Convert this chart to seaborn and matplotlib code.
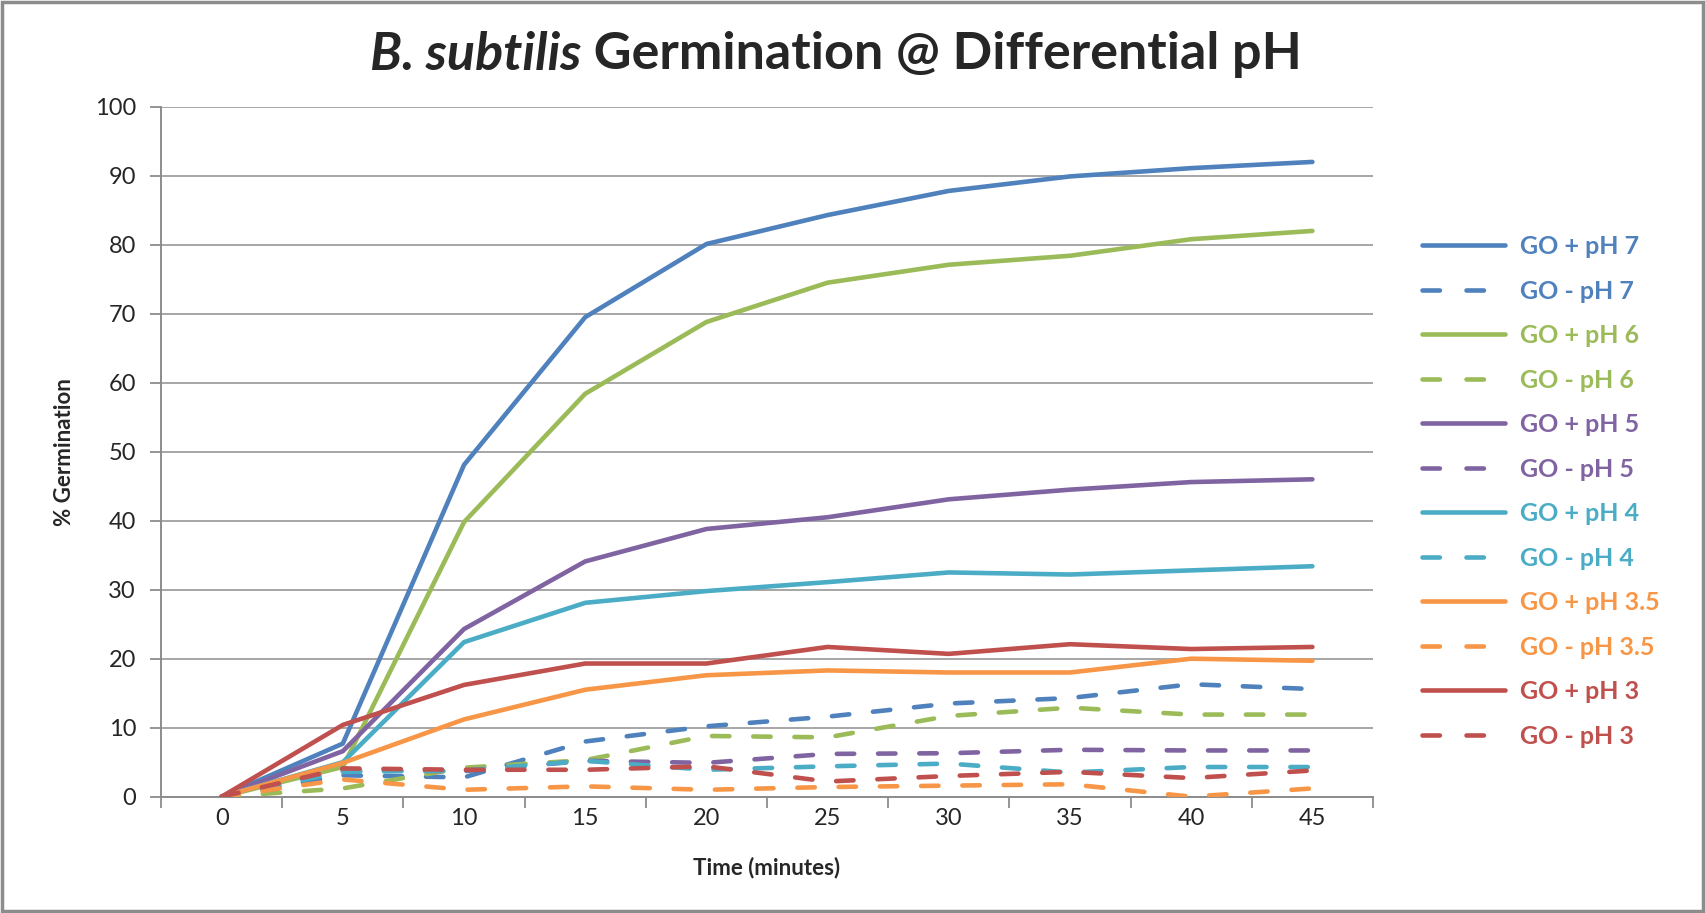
import matplotlib
matplotlib.use("Agg")
import matplotlib.pyplot as plt
import seaborn as sns
import pandas as pd
from matplotlib.lines import Line2D
from matplotlib.patches import Rectangle

# Sampling times (minutes)
time_min = [0, 5, 10, 15, 20, 25, 30, 35, 40, 45]

# % germination per condition
go_plus_ph7 = [0, 7.7, 48.1, 69.5, 80.1, 84.3, 87.8, 89.9, 91.1, 92.0]
go_minus_ph7 = [0, 3.1, 2.8, 8.0, 10.2, 11.6, 13.5, 14.3, 16.3, 15.6]
go_plus_ph6 = [0, 4.3, 39.8, 58.4, 68.8, 74.5, 77.1, 78.4, 80.8, 82.0]
go_minus_ph6 = [0, 1.2, 4.2, 5.3, 8.8, 8.6, 11.7, 12.9, 11.9, 11.9]
go_plus_ph5 = [0, 6.6, 24.3, 34.1, 38.8, 40.5, 43.1, 44.5, 45.6, 46.0]
go_minus_ph5 = [0, 3.8, 3.7, 5.2, 4.9, 6.2, 6.3, 6.8, 6.7, 6.7]
go_plus_ph4 = [0, 5.0, 22.4, 28.1, 29.8, 31.1, 32.5, 32.2, 32.8, 33.4]
go_minus_ph4 = [0, 3.6, 3.8, 5.2, 3.9, 4.4, 4.8, 3.5, 4.3, 4.3]
go_plus_ph35 = [0, 4.9, 11.2, 15.5, 17.6, 18.3, 18.0, 18.0, 20.0, 19.7]
go_minus_ph35 = [0, 2.5, 1.0, 1.5, 1.0, 1.4, 1.6, 1.8, 0.0, 1.2]
go_plus_ph3 = [0, 10.4, 16.2, 19.3, 19.3, 21.7, 20.7, 22.1, 21.4, 21.7]
go_minus_ph3 = [0, 4.1, 3.9, 3.9, 4.4, 2.2, 3.0, 3.6, 2.7, 3.8]

series_names = ["GO + pH 7", "GO - pH 7", "GO + pH 6", "GO - pH 6",
                "GO + pH 5", "GO - pH 5", "GO + pH 4", "GO - pH 4",
                "GO + pH 3.5", "GO - pH 3.5", "GO + pH 3", "GO - pH 3"]
series_values = [go_plus_ph7, go_minus_ph7, go_plus_ph6, go_minus_ph6,
                 go_plus_ph5, go_minus_ph5, go_plus_ph4, go_minus_ph4,
                 go_plus_ph35, go_minus_ph35, go_plus_ph3, go_minus_ph3]

y_ticks = [0, 10, 20, 30, 40, 50, 60, 70, 80, 90, 100]

ph_colors = ["#4F81BD", "#9BBB59", "#8064A2", "#4BACC6", "#F79646", "#C0504D"]
DASH = (3.8, 5.2)
LEGEND_DASH = (3.8, 5.8)
palette = {}
dash_map = {}
for i, name in enumerate(series_names):
    palette[name] = ph_colors[i // 2]
    dash_map[name] = "" if "+" in name else DASH

rows = []
for name, vals in zip(series_names, series_values):
    for pos, v in enumerate(vals):
        rows.append({"pos": pos, "Germination": v, "Series": name})
df = pd.DataFrame(rows)

sns.set_theme(style="white")
plt.rcParams["font.family"] = ["Lato", "DejaVu Sans"]

fig = plt.figure(figsize=(17.06, 9.13), dpi=100)
ax = fig.add_axes([0.0944, 0.1274, 0.7104, 0.7557])

sns.lineplot(data=df, x="pos", y="Germination", hue="Series", style="Series",
             palette=palette, dashes=dash_map, hue_order=series_names,
             style_order=series_names, linewidth=3.3, legend=False, ax=ax,
             zorder=3)
for ln in ax.get_lines():
    ln.set_dash_capstyle("round")
    ln.set_solid_capstyle("round")
    ln.set_solid_joinstyle("round")

ax.set_xlim(-0.5, len(time_min) - 0.5)
ax.set_ylim(0, 100)
ax.set_yticks(y_ticks)
ax.set_yticklabels([str(t) for t in y_ticks], fontsize=17)
ax.yaxis.grid(True, color="#A6A6A6", linewidth=1.4)
ax.set_axisbelow(True)

# Category boundaries carry the tick marks; labels sit at category centres
ax.set_xticks([p - 0.5 for p in range(len(time_min) + 1)])
ax.set_xticklabels([])
ax.set_xticks(range(len(time_min)), minor=True)
ax.set_xticklabels([str(t) for t in time_min], minor=True, fontsize=17)
ax.tick_params(axis="x", which="major", length=8, width=1.3, color="#8C8C8C",
               direction="out", bottom=True)
ax.tick_params(axis="x", which="minor", length=0, pad=8)
ax.tick_params(axis="y", length=8, width=1.3, color="#8C8C8C",
               direction="out", left=True, pad=10)

for side in ["top", "right"]:
    ax.spines[side].set_visible(False)
for side in ["left", "bottom"]:
    ax.spines[side].set_color("#8C8C8C")
    ax.spines[side].set_linewidth(1.4)

ax.set_xlabel("Time (minutes)", fontsize=16, fontweight="bold", labelpad=20)
ax.set_ylabel("% Germination", fontsize=16, fontweight="bold", labelpad=14)

# Legend with text tinted like each line
handles = [Line2D([0], [0], color=palette[n], linewidth=3.3,
                  linestyle="-" if "+" in n else (0, LEGEND_DASH),
                  dash_capstyle="round", solid_capstyle="round")
           for n in series_names]
leg = fig.legend(handles, series_names, loc="upper left",
                 bbox_to_anchor=(0.8205, 0.767), frameon=False,
                 prop={"weight": "bold", "size": 18},
                 handlelength=3.3, handletextpad=0.6, labelspacing=0.86,
                 labelcolor="linecolor")

# Title: italic species name followed by upright text
fig.canvas.draw()
renderer = fig.canvas.get_renderer()
t1 = fig.text(0, 0.94, "B. subtilis", fontsize=37.5, fontweight="bold",
              fontstyle="italic", ha="left", va="center")
t2 = fig.text(0, 0.94, " Germination @ Differential pH", fontsize=37.5,
              fontweight="bold", ha="left", va="center")
w1 = t1.get_window_extent(renderer).width
w2 = t2.get_window_extent(renderer).width
fig_w = fig.bbox.width
start = 836 - (w1 + w2) / 2
t1.set_x(start / fig_w)
t2.set_x((start + w1) / fig_w)

# Outer chart border
fig.patches.append(Rectangle((0.001, 0.002), 0.997, 0.996, transform=fig.transFigure,
                             fill=False, edgecolor="#8C8C8C", linewidth=2.5))

fig.savefig("out.png", dpi=100)
